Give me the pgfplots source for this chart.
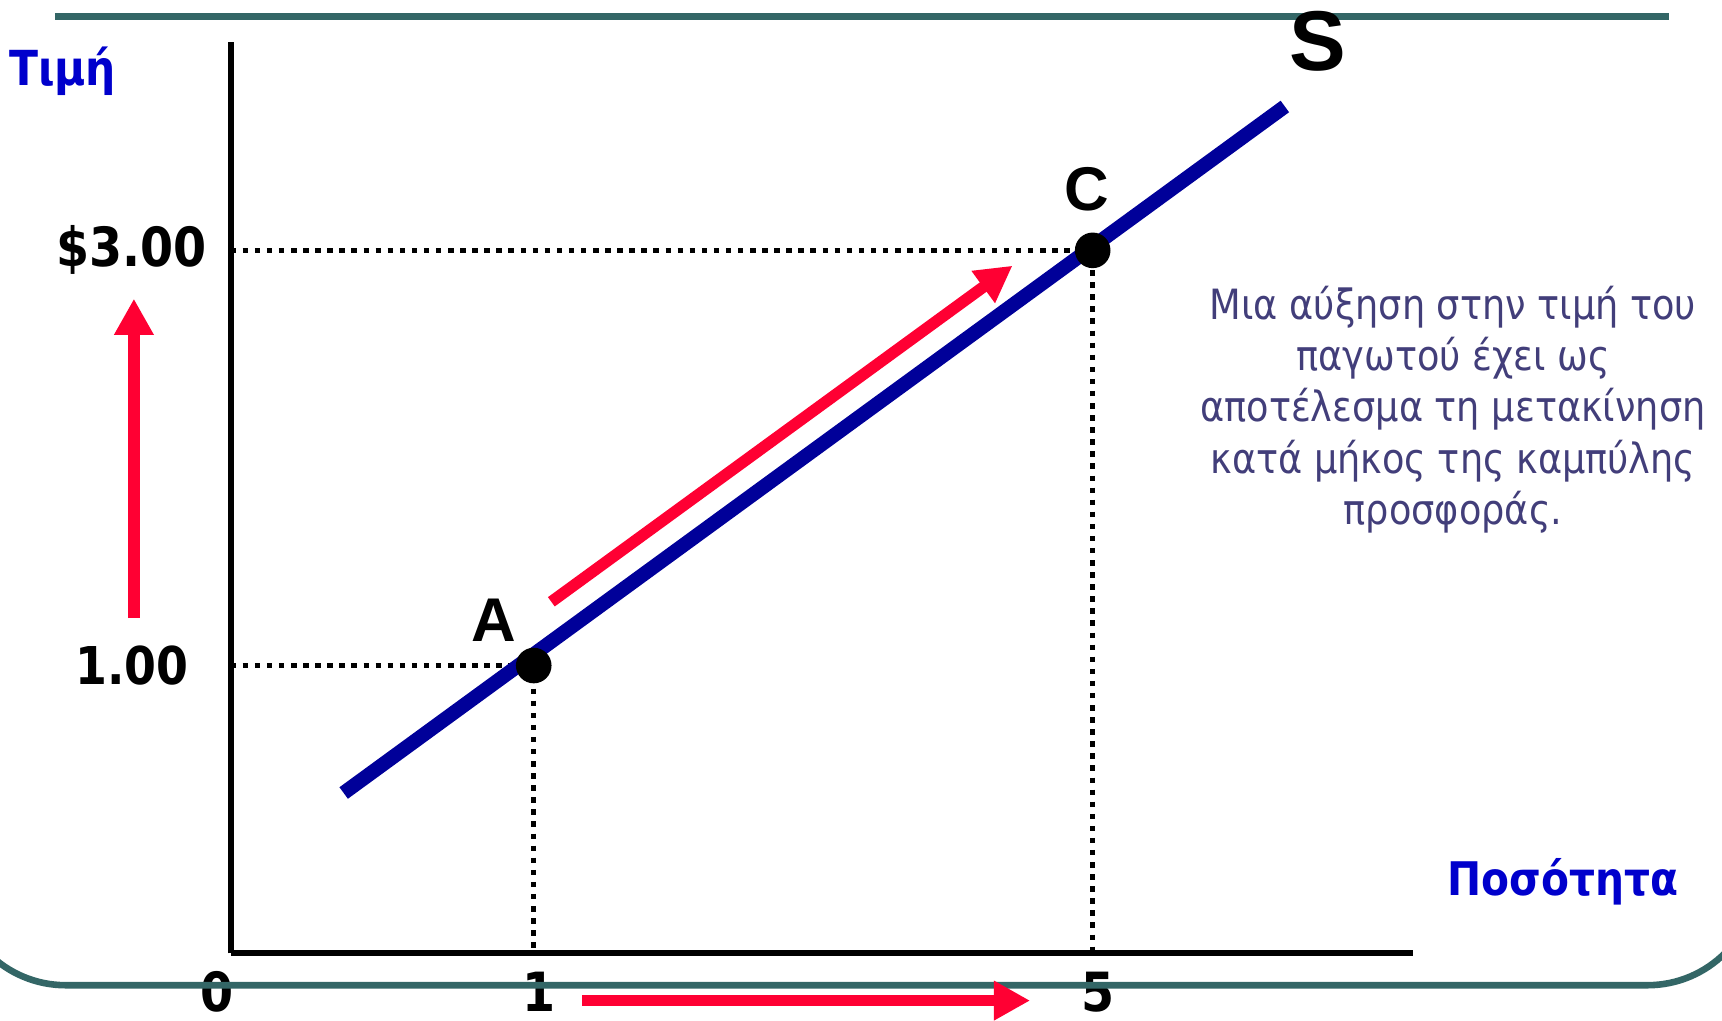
\documentclass[border=0pt]{standalone}
\usepackage{fontspec}
\setmainfont{DejaVu Sans}[FakeStretch=0.88]
\newfontfamily\arialfont{Liberation Sans}
\usepackage{pgfplots}
\pgfplotsset{compat=1.18}
\usetikzlibrary{arrows.meta}

\definecolor{labelblue}{RGB}{0,0,204}
\definecolor{supplyblue}{RGB}{0,0,153}
\definecolor{arrowred}{RGB}{255,0,51}
\definecolor{slideteal}{RGB}{51,102,102}
\definecolor{noteink}{RGB}{66,62,122}

\begin{document}
\begin{tikzpicture}
\useasboundingbox (0,0) rectangle (156.8mm,92.9mm);
\begin{axis}[
  at={(21mm,6.1mm)}, anchor=south west,
  scale only axis, width=107.7mm, height=83mm,
  xmin=-1.169, xmax=7.295, ymin=-0.386, ymax=4.005,
  axis lines*=left,
  axis line style={line width=0.55mm, black},
  clip=false,
  xtick={-1.169,1,5},
  xticklabels={{\kern-3.4mm 0},1,5},
  ytick={1,3},
  yticklabels={{\fontsize{13.5}{16}\selectfont 1.00},\$3.00},
  major tick length=0pt,
  xticklabel style={anchor=center, inner sep=0pt, yshift=-3.55mm, xshift=0.5mm,
    font=\bfseries\fontsize{14}{16}\selectfont},
  yticklabel style={anchor=center, xshift=-9mm,
    font=\bfseries\fontsize{14}{16}\selectfont},
]
% slide decoration
\addplot[slideteal, line width=0.68mm] coordinates {(-2.426,4.127) (9.126,4.127)};
\addplot[slideteal, line width=0.6mm, rounded corners=10mm]
  coordinates {(-3.134,0.238) (-3.134,-0.540) (9.755,-0.540) (9.755,0.238)};

% guide lines to A and C
\addplot[black, line width=0.5mm, dash pattern=on 0.5mm off 0.6mm]
  coordinates {(-1.169,1) (1,1) (1,-0.386)};
\addplot[black, line width=0.5mm, dash pattern=on 0.5mm off 0.6mm]
  coordinates {(-1.169,3) (5,3) (5,-0.386)};

% supply curve
\addplot[supplyblue, line width=1.3mm] coordinates {(-0.36,0.386) (6.375,3.693)};

% movement arrows
\addplot[arrowred, line width=1.05mm, -{Triangle[width=3.4mm,length=3.3mm]}]
  coordinates {(-1.861,1.228) (-1.861,2.767)};
\addplot[arrowred, line width=1.05mm, -{Triangle[width=3.4mm,length=3.3mm]}]
  coordinates {(1.126,1.307) (4.426,2.926)};
\addplot[arrowred, line width=1.05mm, -{Triangle[width=3.4mm,length=3.3mm]}]
  coordinates {(1.346,-0.614) (4.552,-0.614)};

% points A and C
\addplot[only marks, mark=*, mark size=1.55mm, black] coordinates {(1,1) (5,3)};

% labels
\node[labelblue, font=\bfseries\fontsize{12.5}{14}\selectfont] at (axis cs:-2.371,3.862) {Τιμή};
\node[labelblue, font=\bfseries\fontsize{12}{14}\selectfont] at (axis cs:8.363,-0.042) {Ποσότητα};
\node[font=\arialfont\bfseries\fontsize{22}{24}\selectfont] at (axis cs:6.611,4.005) {S};
\node[font=\arialfont\bfseries\fontsize{16}{18}\selectfont] at (axis cs:4.961,3.296) {C};
\node[font=\arialfont\bfseries\fontsize{16}{18}\selectfont] at (axis cs:0.717,1.217) {A};
\node[noteink, align=center, font=\fontsize{10.8}{13.3}\selectfont] at (axis cs:7.578,2.233)
  {Μια αύξηση στην τιμή του\\ παγωτού έχει ως\\ αποτέλεσμα τη μετακίνηση\\ κατά μήκος της καμπύλης\\ προσφοράς.};
\end{axis}
\end{tikzpicture}
\end{document}
